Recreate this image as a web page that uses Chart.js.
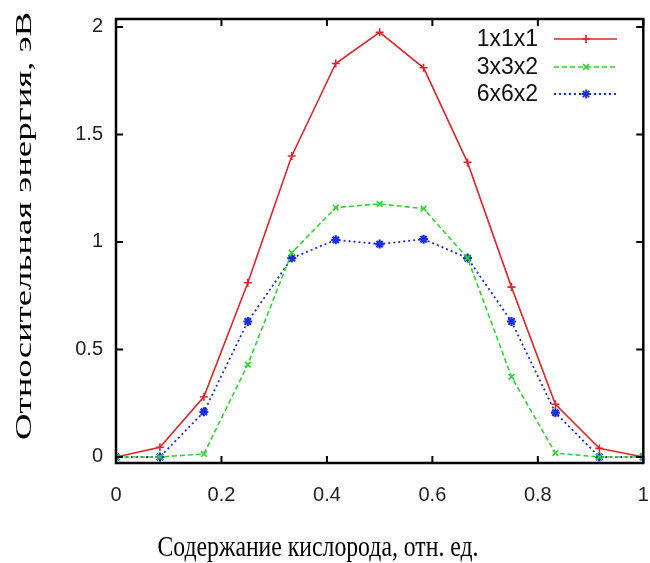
<!DOCTYPE html>
<html>
<head>
<meta charset="utf-8">
<script src="https://cdn.jsdelivr.net/npm/chart.js@4"></script>
<style>
  html, body { margin: 0; padding: 0; background: #fff; }
  #wrap { width: 650px; height: 563px; }
</style>
</head>
<body>
<div id="wrap"><canvas id="myChart" width="650" height="563"></canvas></div>
<script>
// oxygen content, fraction
var oxygen = [0, 1/12, 2/12, 3/12, 4/12, 5/12, 6/12, 7/12, 8/12, 9/12, 10/12, 11/12, 1];
var cell111 = [0, 0.045, 0.28, 0.81, 1.40, 1.83, 1.975, 1.81, 1.37, 0.79, 0.245, 0.04, 0];
var cell332 = [0, 0, 0.014, 0.43, 0.95, 1.16, 1.177, 1.155, 0.925, 0.373, 0.018, 0, 0];
var cell662 = [0, 0, 0.21, 0.63, 0.925, 1.01, 0.99, 1.013, 0.925, 0.63, 0.206, 0, 0];
var xTicks = [0, 0.2, 0.4, 0.6, 0.8, 1];
var yTicks = [0, 0.5, 1, 1.5, 2];
var seriesNames = ['1x1x1', '3x3x2', '6x6x2'];

var xTitle = 'Содержание кислорода, отн. ед.';
var yTitle = 'Относительная энергия, эВ';

function pts(arr) {
    return arr.map(function (v, i) { return {x: oxygen[i], y: v}; });
}

var frame = {
    id: 'frame',
    afterDraw: function (chart) {
        var ctx = chart.ctx;
        var a = chart.chartArea;
        var xs = chart.scales.x, ys = chart.scales.y;
        ctx.save();
        ctx.strokeStyle = '#000';
        ctx.lineWidth = 2.5;
        ctx.strokeRect(a.left, a.top, a.right - a.left, a.bottom - a.top);
        ctx.lineWidth = 2;
        var t = 7;
        xTicks.forEach(function (v) {
            var px = xs.getPixelForValue(v);
            ctx.beginPath();
            ctx.moveTo(px, a.bottom); ctx.lineTo(px, a.bottom - t);
            ctx.moveTo(px, a.top); ctx.lineTo(px, a.top + t);
            ctx.stroke();
        });
        yTicks.forEach(function (v) {
            var py = ys.getPixelForValue(v);
            ctx.beginPath();
            ctx.moveTo(a.left, py); ctx.lineTo(a.left + t, py);
            ctx.moveTo(a.right, py); ctx.lineTo(a.right - t, py);
            ctx.stroke();
        });

        // legend, gnuplot style: text then line sample
        var rows = [39, 67, 94];
        ctx.font = '23px "Liberation Sans", Arial, sans-serif';
        ctx.textAlign = 'right';
        ctx.textBaseline = 'middle';
        chart.data.datasets.forEach(function (ds, i) {
            var y = rows[i];
            ctx.fillStyle = '#111';
            ctx.fillText(ds.label, 538, y + 1);
            ctx.strokeStyle = ds.borderColor;
            ctx.lineWidth = ds.borderWidth;
            ctx.setLineDash(ds.borderDash || []);
            ctx.beginPath();
            ctx.moveTo(554, y); ctx.lineTo(617, y);
            ctx.stroke();
            ctx.setLineDash([]);
            Chart.helpers.drawPoint(ctx, {
                pointStyle: ds.pointStyle, radius: ds.pointRadius,
                borderWidth: ds.pointBorderWidth, rotation: 0
            }, 586, y);
        });

        // axis titles (Times-like, stretched vertically as in the figure)
        ctx.fillStyle = '#000';
        ctx.textAlign = 'center';
        ctx.font = '23px "Liberation Serif", "Times New Roman", serif';
        var w = ctx.measureText(yTitle).width;
        ctx.save();
        ctx.translate(25, 226);
        ctx.rotate(-Math.PI / 2);
        ctx.scale(428 / w, 1);
        ctx.fillText(yTitle, 0, 0);
        ctx.restore();

        ctx.font = '29px "Liberation Serif", "Times New Roman", serif';
        w = ctx.measureText(xTitle).width;
        ctx.save();
        ctx.translate(318, 548);
        ctx.scale(321 / w, 1);
        ctx.fillText(xTitle, 0, 0);
        ctx.restore();
        ctx.restore();
    }
};

var ctx = document.getElementById('myChart').getContext('2d');
var myChart = new Chart(ctx, {
    type: 'line',
    data: {
        datasets: [{
            label: seriesNames[0],
            data: pts(cell111),
            borderColor: '#e0262b',
            backgroundColor: '#e0262b',
            borderWidth: 1.6,
            pointStyle: 'cross',
            pointRadius: 4,
            pointBorderWidth: 1.6
        }, {
            label: seriesNames[1],
            data: pts(cell332),
            borderColor: '#2fd62f',
            backgroundColor: '#2fd62f',
            borderWidth: 1.6,
            borderDash: [5, 3],
            pointStyle: 'crossRot',
            pointRadius: 4,
            pointBorderWidth: 1.6
        }, {
            label: seriesNames[2],
            data: pts(cell662),
            borderColor: '#1a2fd8',
            backgroundColor: '#1a2fd8',
            borderWidth: 1.8,
            borderDash: [2, 3],
            pointStyle: 'star',
            pointRadius: 4.5,
            pointBorderWidth: 2.2
        }]
    },
    options: {
        responsive: false,
        animation: false,
        layout: {padding: {top: 19, right: 5, left: 0, bottom: 0}},
        plugins: {legend: {display: false}, tooltip: {enabled: false}},
        elements: {line: {tension: 0, fill: false}},
        scales: {
            x: {
                type: 'linear',
                min: 0, max: 1,
                grid: {display: false, drawTicks: false},
                border: {display: false},
                afterBuildTicks: function (s) { s.ticks = xTicks.map(function (v) { return {value: v}; }); },
                afterFit: function (s) { s.height = 100; s.paddingLeft = 0; s.paddingRight = 0; },
                ticks: {
                    padding: 20,
                    color: '#222',
                    font: {family: '"Liberation Sans", Arial, sans-serif', size: 20},
                    callback: function (v) { return String(v); }
                }
            },
            y: {
                min: -0.028, max: 2.037,
                grid: {display: false, drawTicks: false},
                border: {display: false},
                afterBuildTicks: function (s) { s.ticks = yTicks.map(function (v) { return {value: v}; }); },
                afterFit: function (s) { s.width = 116; s.paddingTop = 0; s.paddingBottom = 0; },
                ticks: {
                    padding: 13,
                    color: '#222',
                    font: {family: '"Liberation Sans", Arial, sans-serif', size: 20},
                    callback: function (v) { return String(v); }
                }
            }
        }
    },
    plugins: [frame]
});
</script>
</body>
</html>
